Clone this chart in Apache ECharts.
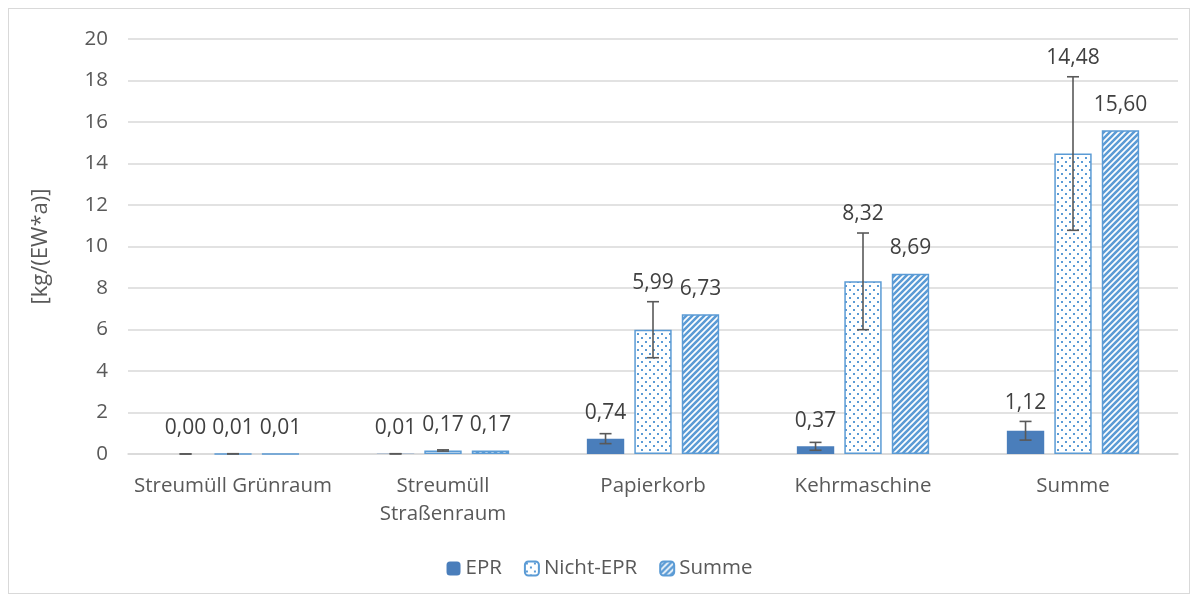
<!DOCTYPE html>
<html>
<head>
<meta charset="utf-8">
<script src="https://cdn.jsdelivr.net/npm/echarts@6/dist/echarts.min.js"></script>
<style>
  body { margin: 0; background: #fff; }
  #frame { position: absolute; left: 8px; top: 8px; width: 1182px; height: 586px; border: 1px solid #d9d9d9; box-sizing: border-box; }
  #main { position: absolute; left: 0; top: 0; width: 1199px; height: 601px; }
</style>
</head>
<body>
<div id="frame"></div>
<div id="main"></div>
<script>
const categories = ['Streumüll Grünraum', 'Streumüll\nStraßenraum', 'Papierkorb', 'Kehrmaschine', 'Summe'];
const eprValues = [0.00, 0.01, 0.74, 0.37, 1.12];
const nichtEprValues = [0.01, 0.17, 5.99, 8.32, 14.48];
const summeValues = [0.01, 0.17, 6.73, 8.69, 15.60];
const eprErrors = [0.002, 0.004, 0.24, 0.19, 0.45];
const nichtEprErrors = [0.004, 0.03, 1.35, 2.33, 3.70];
const yTicks = [0, 2, 4, 6, 8, 10, 12, 14, 16, 18, 20];

const blue = '#5b9bd5';
const darkBlue = '#4a7ebb';
const textColor = '#595959';
const font = 'Open Sans';

// muster fuer Nicht-EPR (punkte) und Summe (schraffur)
function dotPattern() {
  const c = document.createElement('canvas');
  c.width = 8; c.height = 8;
  const ctx = c.getContext('2d');
  ctx.fillStyle = '#fff';
  ctx.fillRect(0, 0, 8, 8);
  ctx.fillStyle = blue;
  ctx.fillRect(1, 1, 2, 2);
  ctx.fillRect(5, 5, 2, 2);
  return c;
}
function stripePattern() {
  const c = document.createElement('canvas');
  c.width = 6; c.height = 6;
  const ctx = c.getContext('2d');
  ctx.fillStyle = '#fff';
  ctx.fillRect(0, 0, 6, 6);
  ctx.strokeStyle = blue;
  ctx.lineWidth = 2.6;
  ctx.beginPath();
  ctx.moveTo(-1, 7); ctx.lineTo(7, -1);
  ctx.moveTo(-4, 4); ctx.lineTo(4, -4);
  ctx.moveTo(2, 10); ctx.lineTo(10, 2);
  ctx.stroke();
  return c;
}

const fmt = v => v.toFixed(2).replace('.', ',');

const catGap = 0.37;
const barGapRatio = 0.27;

function errorSeries(name, seriesIdx, values, errors) {
  return {
    name: name,
    type: 'custom',
    z: 5,
    data: values.map((v, i) => [i, v, errors[i]]),
    renderItem: (params, api) => {
      const idx = api.value(0);
      const val = api.value(1);
      const err = api.value(2);
      const catW = api.size([1, 0])[0];
      const bw = catW * (1 - catGap) / (3 + 2 * barGapRatio);
      const groupW = 3 * bw + 2 * bw * barGapRatio;
      const dx = -groupW / 2 + seriesIdx * bw * (1 + barGapRatio) + bw / 2;
      const hi = api.coord([idx, val + err]);
      const lo = api.coord([idx, Math.max(val - err, 0)]);
      const base = api.coord([idx, val]);
      const x = hi[0] + dx;
      const cap = 6;
      const style = { stroke: '#595959', lineWidth: 1.6 };
      const labelY = Math.min(hi[1] - 8, base[1] - 15);
      return {
        type: 'group',
        children: [
          { type: 'line', shape: { x1: x, y1: hi[1], x2: x, y2: lo[1] }, style: style },
          { type: 'line', shape: { x1: x - cap, y1: hi[1], x2: x + cap, y2: hi[1] }, style: style },
          { type: 'line', shape: { x1: x - cap, y1: lo[1], x2: x + cap, y2: lo[1] }, style: style },
          { type: 'text', x: x, y: labelY, style: { text: fmt(val), fill: '#404040', font: '21px "' + font + '"', align: 'center', verticalAlign: 'bottom' } }
        ]
      };
    }
  };
}

const chart = echarts.init(document.getElementById('main'));
const option = {
  animation: false,
  textStyle: { fontFamily: font },
  grid: { left: 128, right: 21, top: 39, bottom: 147 },
  legend: {
    bottom: 17,
    left: 'center',
    itemWidth: 14,
    itemHeight: 14,
    itemGap: 22,
    data: ['EPR', 'Nicht-EPR', 'Summe'],
    textStyle: { color: textColor, fontSize: 20.5, fontFamily: font }
  },
  xAxis: {
    type: 'category',
    data: categories,
    axisLine: { lineStyle: { color: '#d9d9d9', width: 1.5 } },
    axisTick: { show: false },
    axisLabel: { color: textColor, fontSize: 20.5, lineHeight: 28, margin: 18, interval: 0 }
  },
  yAxis: {
    type: 'value',
    min: yTicks[0],
    max: yTicks[yTicks.length - 1],
    interval: 2,
    name: '[kg/(EW*a)]',
    nameLocation: 'middle',
    nameGap: 76,
    nameTextStyle: { color: textColor, fontSize: 22 },
    axisLabel: { color: textColor, fontSize: 20.5, margin: 20 },
    splitLine: { lineStyle: { color: '#d9d9d9', width: 1.5 } }
  },
  series: [
    {
      name: 'EPR', type: 'bar', data: eprValues,
      barCategoryGap: catGap * 100 + '%', barGap: barGapRatio * 100 + '%',
      itemStyle: { color: darkBlue }
    },
    {
      name: 'Nicht-EPR', type: 'bar', data: nichtEprValues,
      itemStyle: { color: { image: dotPattern(), repeat: 'repeat' }, borderColor: blue, borderWidth: 1.5 }
    },
    {
      name: 'Summe', type: 'bar', data: summeValues,
      itemStyle: { color: { image: stripePattern(), repeat: 'repeat' }, borderColor: blue, borderWidth: 1.5 },
      label: { show: true, position: 'top', distance: 15, color: '#404040', fontSize: 21, formatter: p => fmt(p.value) }
    },
    errorSeries('EPR', 0, eprValues, eprErrors),
    errorSeries('Nicht-EPR', 1, nichtEprValues, nichtEprErrors)
  ]
};
chart.setOption(option);
</script>
</body>
</html>
